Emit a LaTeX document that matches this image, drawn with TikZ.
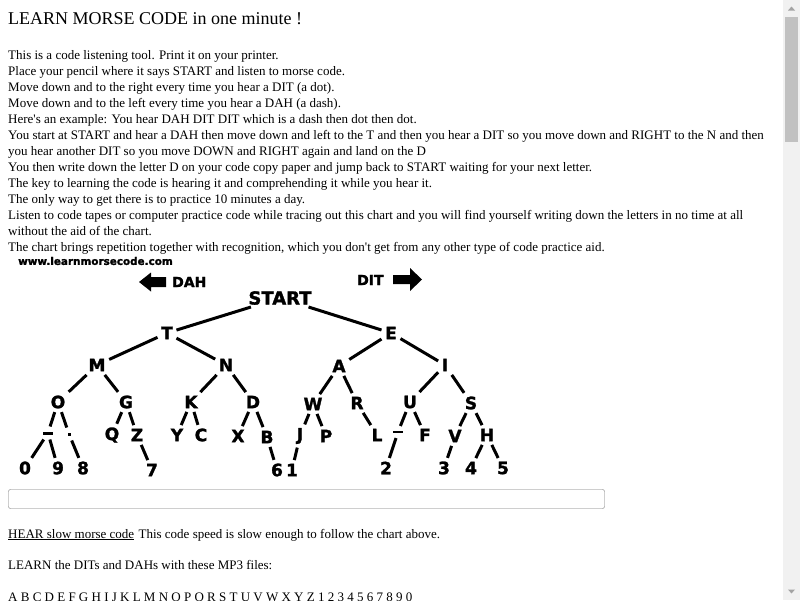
\documentclass[tikz,border=0pt]{standalone}
\usepackage{fontspec}
\setmainfont{Liberation Serif}
\newfontfamily\chartfont{DejaVu Sans}[BoldFeatures = {FakeBold = 1.6}]
\definecolor{scrolltrack}{HTML}{F1F1F1}
\definecolor{scrollthumb}{HTML}{C1C1C1}
\definecolor{scrollarrow}{HTML}{A3A3A3}
\definecolor{fieldborder}{HTML}{767676}

\begin{document}
\begin{tikzpicture}[x = 1pt, y = -1pt,
	bodytext/.style = {anchor = base west, inner sep = 0pt, font = \fontsize{13}{16}\selectfont},
	letter/.style = {font = \chartfont\bfseries\fontsize{17}{17}\selectfont, inner sep = 3.5pt},
	branch/.style = {line width = 3pt},
	dahbar/.style = {fill, minimum width = 10pt, minimum height = 3pt, inner sep = 0pt, outer sep = 5pt},
	ditdot/.style = {fill, minimum size = 3pt, inner sep = 0pt, outer sep = 5pt}]
	\useasboundingbox (0,0) rectangle (800,600);
	\clip (0,0) rectangle (800,600);
	\fill[white] (0,0) rectangle (800,600);
	\node[bodytext, font = \fontsize{18}{20}\selectfont] (title) at (8,24) {LEARN MORSE CODE in one minute !};
	\node[bodytext] (l1) at (8,59) {This is a code listening tool. Print it on your printer.};
	\node[bodytext] (l2) at (8,75) {Place your pencil where it says START and listen to morse code.};
	\node[bodytext] (l3) at (8,91) {Move down and to the right every time you hear a DIT (a dot).};
	\node[bodytext] (l4) at (8,107) {Move down and to the left every time you hear a DAH (a dash).};
	\node[bodytext] (l5) at (8,123) {Here\textquotesingle s an example: You hear DAH DIT DIT which is a dash then dot then dot.};
	\node[bodytext] (l6) at (8,139) {You start at START and hear a DAH then move down and left to the T and then you hear a DIT so you move down and RIGHT to the N and then};
	\node[bodytext] (l7) at (8,155) {you hear another DIT so you move DOWN and RIGHT again and land on the D};
	\node[bodytext] (l8) at (8,171) {You then write down the letter D on your code copy paper and jump back to START waiting for your next letter.};
	\node[bodytext] (l9) at (8,187) {The key to learning the code is hearing it and comprehending it while you hear it.};
	\node[bodytext] (l10) at (8,203) {The only way to get there is to practice 10 minutes a day.};
	\node[bodytext] (l11) at (8,219) {Listen to code tapes or computer practice code while tracing out this chart and you will find yourself writing down the letters in no time at all};
	\node[bodytext] (l12) at (8,235) {without the aid of the chart.};
	\node[bodytext] (l13) at (8,251) {The chart brings repetition together with recognition, which you don\textquotesingle t get from any other type of code practice aid.};
	\node[anchor = west, inner sep = 0pt, font = \chartfont\bfseries\fontsize{10.4}{12}\selectfont] (site) at (18,261) {www.learnmorsecode.com};
	\fill (139,282) -- (151,272.5) -- (151,277) -- (166,277) -- (166,287) -- (151,287) -- (151,291.5) -- cycle;
	\node[anchor = west, inner sep = 0pt, font = \chartfont\bfseries\fontsize{14}{14}\selectfont] (dah) at (172,282) {DAH};
	\node[anchor = west, inner sep = 0pt, font = \chartfont\bfseries\fontsize{14}{14}\selectfont] (dit) at (357,280) {DIT};
	\fill (422,279.5) -- (410,268) -- (410,275) -- (393,275) -- (393,284) -- (410,284) -- (410,291) -- cycle;
	\node[letter, font = \chartfont\bfseries\fontsize{18}{18}\selectfont, inner sep = 2pt] (START) at (280,298) {START};
	\node[letter] (T) at (167,333) {T};
	\node[letter] (E) at (391,333) {E};
	\node[letter] (M) at (97,365) {M};
	\node[letter] (N) at (226,365) {N};
	\node[letter] (A) at (339,366) {A};
	\node[letter] (I) at (445,365) {I};
	\node[letter] (O) at (58,402) {O};
	\node[letter] (G) at (126,402) {G};
	\node[letter] (K) at (191,402) {K};
	\node[letter] (D) at (253,402) {D};
	\node[letter] (W) at (313,404) {W};
	\node[letter] (R) at (357,403) {R};
	\node[letter] (U) at (410,402) {U};
	\node[letter] (S) at (471,403) {S};
	\node[dahbar] (Odash) at (48,433) {};
	\node[ditdot] (Odot) at (69,434) {};
	\node[letter] (Q) at (112,435) {Q};
	\node[letter] (Z) at (137,435) {Z};
	\node[letter] (Y) at (177,435) {Y};
	\node[letter] (C) at (201,435) {C};
	\node[letter] (X) at (238,436) {X};
	\node[letter] (B) at (267,437) {B};
	\node[letter] (J) at (300,436) {J};
	\node[letter] (P) at (326,436) {P};
	\node[letter] (L) at (377,435) {L};
	\node[dahbar, minimum height = 2pt] (Udash) at (398,432) {};
	\node[letter] (F) at (425,435) {F};
	\node[letter] (V) at (455,436) {V};
	\node[letter] (H) at (487,435) {H};
	\node[letter] (d0) at (25,468) {0};
	\node[letter] (d9) at (58,468) {9};
	\node[letter] (d8) at (83,468) {8};
	\node[letter] (d7) at (152,470) {7};
	\node[letter] (d6) at (277,470) {6};
	\node[letter] (d1) at (292,470) {1};
	\node[letter] (d2) at (386,468) {2};
	\node[letter] (d3) at (444,468) {3};
	\node[letter] (d4) at (471,468) {4};
	\node[letter] (d5) at (503,468) {5};
	\draw[branch] (START) -- (T);
	\draw[branch] (START) -- (E);
	\draw[branch] (T) -- (M);
	\draw[branch] (T) -- (N);
	\draw[branch] (E) -- (A);
	\draw[branch] (E) -- (I);
	\draw[branch] (M) -- (O);
	\draw[branch] (M) -- (G);
	\draw[branch] (N) -- (K);
	\draw[branch] (N) -- (D);
	\draw[branch] (A) -- (W);
	\draw[branch] (A) -- (R);
	\draw[branch] (I) -- (U);
	\draw[branch] (I) -- (S);
	\draw[branch] (O) -- (Odash);
	\draw[branch] (O) -- (Odot);
	\draw[branch] (G) -- (Q);
	\draw[branch] (G) -- (Z);
	\draw[branch] (K) -- (Y);
	\draw[branch] (K) -- (C);
	\draw[branch] (D) -- (X);
	\draw[branch] (D) -- (B);
	\draw[branch] (W) -- (J);
	\draw[branch] (W) -- (P);
	\draw[branch] (R) -- (L);
	\draw[branch] (U) -- (Udash);
	\draw[branch] (U) -- (F);
	\draw[branch] (S) -- (V);
	\draw[branch] (S) -- (H);
	\draw[branch] (Odash) -- (d0);
	\draw[branch] (Odash) -- (d9);
	\draw[branch] (Odot) -- (d8);
	\draw[branch] (Z) -- (d7);
	\draw[branch] (B) -- (d6);
	\draw[branch] (J) -- (d1);
	\draw[branch] (Udash) -- (d2);
	\draw[branch] (V) -- (d3);
	\draw[branch] (H) -- (d4);
	\draw[branch] (H) -- (d5);
	\draw[draw = fieldborder, rounded corners = 2pt] (8.5,489.5) rectangle (604.5,508.5);
	\node[bodytext] (hear) at (8,538) {\underline{HEAR slow morse code}};
	\node[bodytext, anchor = base west] (speed) at ([xshift = 4pt]hear.base east) {This code speed is slow enough to follow the chart above.};
	\node[bodytext] (learn) at (8,569) {LEARN the DITs and DAHs with these MP3 files:};
	\node[bodytext] (files) at (8,601) {A B C D E F G H I J K L M N O P Q R S T U V W X Y Z 1 2 3 4 5 6 7 8 9 0};
	\fill[scrolltrack] (783,0) rectangle (800,600);
	\fill[scrollthumb] (785,17) rectangle (798,142);
	\fill[scrollarrow] (788,10.5) -- (795,10.5) -- (791.5,6.5) -- cycle;
	\fill[scrollarrow] (788,589.5) -- (795,589.5) -- (791.5,593.5) -- cycle;
\end{tikzpicture}
\end{document}
